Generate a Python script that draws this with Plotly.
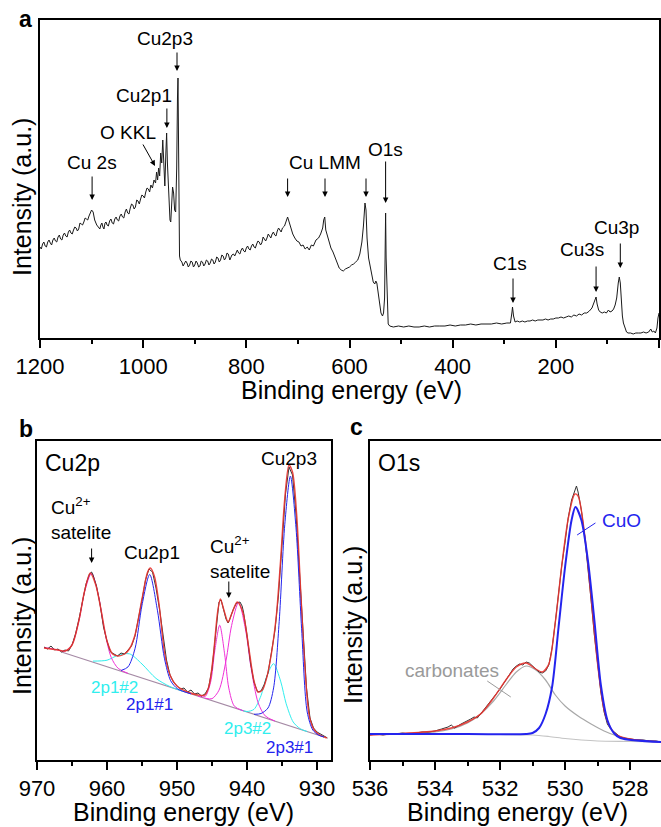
import plotly.graph_objects as go

W, H = 661, 827
FONT = "Liberation Sans, Arial, sans-serif"

# ---------------- Panel a: survey spectrum ----------------
survey_E = [1200, 1195, 1190, 1185, 1180, 1175, 1170, 1165, 1160, 1155, 1150, 1145, 1140, 1135, 1130,
            1125, 1120, 1115, 1110, 1105, 1100, 1097, 1094, 1090, 1086, 1082, 1078, 1074, 1070, 1065,
            1060, 1055, 1050, 1045, 1040, 1035, 1030, 1025, 1020, 1015, 1010, 1005, 1000, 995, 990,
            985, 982, 979, 976, 974, 972, 970, 968, 966, 964, 962, 960, 958, 956, 954.5, 953, 950,
            948, 946.5, 945, 943, 941, 939, 937, 935, 933.5, 932.5, 931.5, 930.5, 929.5, 928, 925,
            920, 915, 910, 905, 900, 895, 890, 885, 880, 875, 870, 865, 860, 855, 850, 845, 840, 835,
            832, 828, 825, 820, 815, 810, 805, 800, 795, 790, 785, 780, 775, 770, 765, 760, 755, 750,
            745, 740, 735, 730, 726, 722, 720, 717, 714, 710, 706, 702, 698, 694, 690, 686, 682, 678,
            674, 670, 665, 660, 656, 652, 650, 648, 646, 643, 640, 636, 632, 628, 624, 620, 616, 612,
            608, 604, 600, 596, 592, 588, 584, 580, 576, 573, 570, 568, 566, 563, 560, 557, 554, 551,
            549, 547, 545, 542, 539, 536, 534, 532, 531, 530, 529, 527, 525, 522, 515, 505, 495, 485,
            475, 465, 455, 445, 435, 425, 415, 405, 395, 385, 375, 365, 355, 345, 335, 325, 315, 305,
            295, 288, 285, 284, 282, 279, 275, 270, 265, 260, 255, 250, 245, 240, 235, 230, 225, 220,
            215, 210, 205, 200, 195, 190, 185, 180, 175, 170, 165, 160, 155, 150, 145, 140, 135, 130,
            127, 124, 122, 120, 117, 114, 110, 106, 102, 98, 95, 91, 88, 85, 82, 79, 77, 75, 73, 71,
            69, 66, 63, 60, 55, 50, 45, 40, 35, 30, 25, 20, 16, 13, 10, 7, 4, 2, 0]
survey_I = [91, 94, 92, 96, 95, 98, 97, 101, 99, 103, 102, 106, 105, 108, 110,
            109, 114, 116, 119, 122, 128, 126, 118, 113, 110, 113, 111, 115, 113, 117,
            115, 119, 118, 122, 121, 126, 125, 130, 133, 131, 137, 139, 142, 146, 149,
            153, 150, 158, 155, 166, 158, 170, 162, 185, 175, 198, 170, 152, 185, 205, 175, 128,
            118, 116, 132, 151, 145, 128, 126, 170, 240, 260, 200, 110, 82, 78, 76,
            74, 75, 73, 76, 73, 75, 72, 76, 74, 77, 75, 78, 76, 80, 78, 82, 80, 84,
            78, 83, 84, 86, 85, 88, 87, 90, 89, 92, 91, 94, 96, 95, 99, 100, 102, 104,
            103, 107, 108, 110, 112, 118, 121, 116, 110, 104, 100, 97, 96, 92, 93, 89, 91, 88,
            93, 92, 98, 100, 104, 110, 118, 121, 108, 102, 96, 90, 86, 80, 75, 70, 68, 67,
            69, 70, 71, 73, 74, 76, 78, 84, 96, 112, 135, 128, 100, 80, 72, 62, 56, 54,
            57, 55, 46, 35, 25, 22, 25, 40, 95, 125, 80, 30, 14, 12, 11, 12, 11, 12,
            11, 11, 12, 11, 12, 12, 12, 13, 12, 13, 13, 14, 13, 14, 14, 14, 15, 14,
            15, 15, 26, 31, 22, 16, 17, 16, 17, 16, 17, 17, 18, 17, 18, 18, 18, 19,
            18, 19, 19, 20, 20, 21, 20, 21, 22, 21, 23, 22, 24, 23, 25, 25, 27, 30,
            34, 40, 41, 34, 28, 26, 25, 26, 25, 28, 26, 27, 29, 33, 40, 55, 61, 55, 35, 22,
            15, 9, 6, 5, 5, 4, 5, 5, 5, 6, 5, 6, 9, 6, 7, 5, 10, 20, 25]
# extra readings of the noisy background between the points above
survey_noise_E = [1197.5, 1192.5, 1187.5, 1182.5, 1177.5, 1172.5, 1167.5, 1162.5, 1157.5, 1152.5,
                  1147.5, 1142.5, 1137.5, 1132.5, 1127.5, 1122.5, 1117.5, 1112.5, 1107.5, 1102.5,
                  1084, 1080, 1076, 1072, 1067.5, 1062.5, 1057.5, 1052.5, 1047.5, 1042.5, 1037.5,
                  1032.5, 1027.5, 1022.5, 1017.5, 1012.5, 1007.5, 1002.5, 997.5, 992.5, 987.5,
                  922.5, 917.5, 912.5, 907.5, 902.5, 897.5, 892.5, 887.5, 882.5, 877.5, 872.5, 867.5,
                  862.5, 857.5, 852.5, 847.5, 842.5, 837.5, 822.5, 817.5, 812.5, 807.5, 802.5, 797.5,
                  792.5, 787.5, 782.5, 777.5, 772.5, 767.5, 762.5, 757.5, 752.5, 747.5, 742.5, 737.5,
                  732.5]
survey_noise_I = [89, 96, 91, 98, 93, 100, 96, 103, 98, 105,
                  101, 108, 104, 111, 107, 115, 113, 120, 118, 126,
                  109, 115, 109, 116, 112, 119, 114, 121, 117, 124, 120,
                  129, 124, 134, 129, 138, 134, 143, 140, 150, 146,
                  72, 77, 71, 77, 71, 77, 71, 77, 72, 78, 73, 79,
                  74, 81, 76, 83, 78, 85, 82, 88, 84, 90, 86, 92,
                  88, 94, 90, 97, 93, 101, 97, 104, 100, 106, 102, 110,
                  106]

survey_labels = ["Cu 2s", "O KKL", "Cu2p1", "Cu2p3", "Cu LMM", "O1s", "C1s", "Cu3s", "Cu3p"]
survey_label_E = [1099, 1029, 998, 958, 647, 531, 289, 149, 83]
survey_label_I = [175, 205, 242, 299, 175, 188, 75, 88, 110]
# arrows: (head E, head I, tail E, tail I)
survey_arrows = [(1099, 138, 1099, 163), (977, 172, 1002, 195), (954, 210, 954, 231),
                 (934.4, 267, 934.4, 287), (720, 141, 720, 161), (647.5, 141, 647.5, 161),
                 (568, 141, 568, 161), (530, 135, 530, 178), (283, 35, 283, 61),
                 (122, 46, 122, 73), (75, 70, 75, 96)]

# ---------------- Panel b: Cu2p ----------------
cu_E = [969.0, 968.5, 968.0, 967.5, 967.0, 966.5, 966.0, 965.5, 965.0, 964.5, 964.0, 963.5, 963.0,
        962.5, 962.2, 962.0, 961.5, 961.0, 960.5, 960.0, 959.5, 959.0, 958.5, 958.0, 957.5, 957.0,
        956.5, 956.0, 955.5, 955.0, 954.5, 954.0, 953.5, 953.0, 952.5, 952.0, 951.5, 951.0, 950.5,
        950.0, 949.5, 949.0, 948.5, 948.0, 947.5, 947.0, 946.5, 946.0, 945.5, 945.0, 944.5, 944.0,
        943.7, 943.5, 943.0, 942.7, 942.5, 942.0, 941.5, 941.0, 940.7, 940.5, 940.0, 939.5, 939.0,
        938.5, 938.0, 937.5, 937.0, 936.5, 936.0, 935.5, 935.0, 934.5, 934.0, 933.5, 933.0, 932.5,
        932.0, 931.5, 931.0, 930.5, 930.0, 929.5, 929.0, 928.5]
cu_I = [113, 111, 114, 110, 111, 108, 110, 109, 115, 126, 141, 160, 176,
        186, 188, 185, 174, 156, 133, 119, 108, 106, 104, 107, 106, 110,
        114, 124, 141, 160, 180, 191, 188, 172, 151, 124, 100, 85, 78,
        74, 71, 72, 68, 70, 66, 67, 64, 66, 72, 91, 126, 158,
        160, 154, 141, 137, 140, 150, 157, 158, 154, 148, 125, 97, 78,
        68, 69, 76, 87, 108, 130, 165, 215, 266, 293, 285, 246, 190,
        122, 72, 42, 32, 28, 26, 24, 22]

cu_fit_E = [969, 967, 966, 965, 964, 963.2, 962.4, 961.6, 960.8, 960, 959.2, 958.4, 957.5, 956.8,
            956, 955, 954.2, 953.8, 953.2, 952.5, 951.8, 951, 950, 948.5, 947, 946, 945.4, 944.8,
            944.2, 943.8, 943.3, 942.7, 942.2, 941.4, 940.6, 939.8, 939, 938.4, 937.8, 937.2, 936.5,
            935.8, 935.2, 934.6, 934.0, 933.5, 932.9, 932.3, 931.7, 931.1, 930.4, 929.6, 928.6]
cu_fit_I = [112, 110, 109, 115, 140, 169, 187, 175, 148, 119, 106, 104, 106, 111,
            125, 161, 188, 192, 183, 152, 108, 85, 74, 68, 65, 65, 75, 105,
            148, 161, 150, 138, 146, 158, 148, 115, 79, 68, 70, 82, 107,
            145, 200, 262, 295, 288, 245, 165, 90, 44, 30, 25, 22]

bg_E = [966.5, 929.0]
bg_I = [108, 23]

p1_1_E = [958, 957, 956, 955, 953.9, 952.8, 951.8, 950.9, 949.9, 948]
p1_1_I = [89.5, 93.1, 111.3, 154.8, 185.5, 149.8, 101.8, 79.2, 71.1, 66.1]
p1_2_E = [962, 960, 958.5, 956.8, 955, 953, 951, 949]
p1_2_I = [98.9, 99.8, 104.5, 106.2, 96.0, 81.6, 73.4, 68.4]
p3_1_E = [939, 938, 937, 936.2, 935.4, 934.6, 933.8, 933.0, 932.2, 931.4, 930.6, 929.8, 929]
p3_1_I = [45.7, 46.5, 52, 72.1, 138.5, 235.7, 283.9, 232.1, 131.2, 48, 30, 25, 23]
p3_2_E = [941, 940, 939, 938, 937.2, 936.2, 935.2, 934.4, 933.4, 932.4, 931.4]
p3_2_I = [50.3, 48.5, 50.7, 64.3, 83.4, 96.3, 78.9, 56.2, 38.0, 31.3, 28.4]
sat1_E = [969, 968, 967, 966, 965, 964, 963.2, 962.2, 961.2, 960.4, 959.4, 958.4, 957]
sat1_I = [112.5, 111.5, 110, 108.8, 115.3, 139.4, 168.3, 187.0, 163.8, 131.2, 102.6, 91.6, 86.6]
sat2_E = [947, 946, 945.2, 944.6, 943.9, 943.2, 942.6, 941.8, 940.5]
sat2_I = [63.9, 63.3, 77.8, 109.4, 134.8, 106.2, 71.9, 53.8, 49.1]
sat3_E = [946, 945, 944, 943, 942.2, 941.2, 940.2, 939.4, 938.4, 937.4, 936]
sat3_I = [61.8, 61.3, 69.8, 99.3, 134.5, 157.7, 130.0, 91.1, 57.1, 44.1, 38.9]

# ---------------- Panel c: O1s ----------------
o_E = [536.0, 535.8, 535.6, 535.4, 535.2, 535.0, 534.8, 534.6, 534.4, 534.2, 534.0, 533.8, 533.6,
       533.5, 533.4, 533.2, 533.0, 532.9, 532.8, 532.7, 532.6, 532.5, 532.4, 532.3, 532.2, 532.1,
       532.0, 531.9, 531.8, 531.7, 531.6, 531.5, 531.4, 531.3, 531.2, 531.1, 531.0, 530.9, 530.8,
       530.7, 530.6, 530.5, 530.4, 530.3, 530.2, 530.1, 530.0, 529.9, 529.8, 529.7, 529.65, 529.6,
       529.5, 529.4, 529.3, 529.2, 529.1, 529.0, 528.9, 528.8, 528.7, 528.6, 528.5, 528.4, 528.3,
       528.2, 528.0, 527.8, 527.6, 527.4, 527.2, 527.05]
o_I = [25, 26, 25, 26, 26, 27, 26, 27, 28, 28, 29, 31, 33,
       35, 32, 36, 39, 41, 43, 42, 46, 50, 54, 58, 62, 66,
       71, 76, 81, 86, 91, 94, 96, 95, 98, 97, 94, 91, 88,
       87, 89, 95, 112, 138, 168, 195, 218, 243, 260, 270, 274, 268,
       250, 225, 195, 160, 125, 95, 68, 48, 36, 31, 28, 25, 23,
       22, 21, 20, 20, 19, 19, 18]
o_fit_E = [536, 535, 534, 533.5, 533, 532.6, 532.2, 531.8, 531.5, 531.2, 530.9, 530.7, 530.5, 530.3,
           530.1, 529.9, 529.7, 529.6, 529.4, 529.2, 529.0, 528.8, 528.6, 528.4, 528.0, 527.05]
o_fit_I = [25, 26.5, 29, 32, 38, 46, 62, 81, 93, 97, 91, 88, 96, 138,
           195, 242, 266, 264, 226, 162, 96, 50, 32, 25, 21, 18]
cuo_E = [536, 533, 531.2, 531.0, 530.8, 530.6, 530.4, 530.2, 530.0, 529.8, 529.68, 529.5, 529.3,
         529.1, 528.9, 528.7, 528.5, 528.3, 527.05]
cuo_I = [26, 26, 26, 27, 32, 46, 73, 133, 193, 240, 253, 240, 200, 140, 75, 40, 27, 22, 18]
carb_E = [536, 535, 534, 533.5, 533, 532.6, 532.2, 531.8, 531.5, 531.2, 530.9, 530.6, 530.3, 530.0,
          529.6, 529.2, 528.8, 528.4, 528.0, 527.05]
carb_I = [26, 26.5, 28, 31, 37, 46, 59, 76, 88, 94, 90, 80, 65, 54, 44, 36, 29, 24, 21, 18]
obg_E = [536, 532, 531, 530.5, 530, 529.5, 529, 528, 527.05]
obg_I = [25.5, 25.5, 25, 23.5, 21.5, 20, 19, 18.5, 18]

# ---------------- figure ----------------
def dx(px):
    return px / W

def dy(py):
    return 1 - py / H

fig = go.Figure()

survey_pairs = sorted(zip(survey_E + survey_noise_E, survey_I + survey_noise_I), reverse=True)
fig.add_trace(go.Scatter(x=[p[0] for p in survey_pairs], y=[p[1] for p in survey_pairs], mode="lines",
                         line=dict(color="#1a1a1a", width=1), xaxis="x", yaxis="y", showlegend=False))

RED = "rgba(232,50,45,0.9)"
BLUE = "#2424ee"
CYAN = "#30eeee"
MAG = "#f030d8"

def add_b(xs, ys, color, width=1.0):
    fig.add_trace(go.Scatter(x=xs, y=ys, mode="lines", line=dict(color=color, width=width, shape="spline", smoothing=0.8),
                             xaxis="x2", yaxis="y2", showlegend=False))

fig.add_trace(go.Scatter(x=bg_E, y=bg_I, mode="lines", line=dict(color="#a58aa5", width=1.2),
                         xaxis="x2", yaxis="y2", showlegend=False))
add_b(p1_2_E, p1_2_I, CYAN)
add_b(p3_2_E, p3_2_I, CYAN)
add_b(sat1_E, sat1_I, MAG)
add_b(sat2_E, sat2_I, MAG)
add_b(sat3_E, sat3_I, MAG)
fig.add_trace(go.Scatter(x=cu_E, y=cu_I, mode="lines", line=dict(color="#333333", width=1),
                         xaxis="x2", yaxis="y2", showlegend=False))
add_b(cu_fit_E, cu_fit_I, RED, 1.4)
add_b(p1_1_E, p1_1_I, BLUE)
add_b(p3_1_E, p3_1_I, BLUE)

def add_c(xs, ys, color, width=1.0):
    fig.add_trace(go.Scatter(x=xs, y=ys, mode="lines", line=dict(color=color, width=width, shape="spline", smoothing=0.8),
                             xaxis="x3", yaxis="y3", showlegend=False))

add_c(obg_E, obg_I, "#c4c4c4", 1.2)
add_c(carb_E, carb_I, "#a8a8a8", 1.2)
fig.add_trace(go.Scatter(x=o_E, y=o_I, mode="lines", line=dict(color="#333333", width=1),
                         xaxis="x3", yaxis="y3", showlegend=False))
add_c(o_fit_E, o_fit_I, RED, 1.4)
add_c(cuo_E, cuo_I, BLUE, 2.0)

def xax(domain, rng, dtick, mdtick, anchor):
    return dict(domain=domain, range=rng, autorange=False, automargin=False, anchor=anchor,
                dtick=dtick, tick0=0,
                ticks="outside", ticklen=8, tickwidth=1.5, tickcolor="black",
                minor=dict(dtick=mdtick, ticks="outside", ticklen=4, tickwidth=1.5, tickcolor="black"),
                showline=True, linecolor="black", linewidth=1.5, mirror=True,
                showgrid=False, zeroline=False,
                tickfont=dict(family=FONT, size=22, color="black"))

def topax(over, rng, dtick, mdtick, anchor):
    return dict(overlaying=over, side="top", anchor=anchor, range=rng, autorange=False, automargin=False,
                dtick=dtick, tick0=0,
                ticks="inside", ticklen=8, tickwidth=1.5, tickcolor="black",
                minor=dict(dtick=mdtick, ticks="inside", ticklen=4, tickwidth=1.5, tickcolor="black"),
                showticklabels=False, showline=False, showgrid=False, zeroline=False)

def yax(domain, rng, anchor):
    return dict(domain=domain, range=rng, autorange=False, automargin=False, anchor=anchor,
                showticklabels=False, ticks="",
                showline=True, linecolor="black", linewidth=1.5, mirror=True,
                showgrid=False, zeroline=False)

dom_a_x = [dx(40), dx(659)]
dom_a_y = [dy(338), dy(20)]
dom_b_x = [dx(37), dx(331)]
dom_c_x = [dx(370), 1.0]
dom_bc_y = [dy(760), dy(441)]

rng_a = [1200, 0]
rng_b = [970, 928]
rng_c = [536, 527.05]

fig.update_layout(
    width=W, height=H, autosize=False, margin=dict(l=0, r=0, t=0, b=0, pad=0, autoexpand=False),
    paper_bgcolor="white", plot_bgcolor="white", showlegend=False,
    xaxis=xax(dom_a_x, rng_a, 200, 100, "y"),
    yaxis=yax(dom_a_y, [0, 318], "x"),
    xaxis2=xax(dom_b_x, rng_b, 10, 5, "y2"),
    yaxis2=yax(dom_bc_y, [0, 319], "x2"),
    xaxis3=xax(dom_c_x, rng_c, 2, 1, "y3"),
    yaxis3=yax(dom_bc_y, [0, 319], "x3"),
    xaxis4=topax("x", rng_a, 200, 100, "y"),
    xaxis5=topax("x2", rng_b, 10, 5, "y2"),
    xaxis6=topax("x3", rng_c, 2, 1, "y3"),
)

ann = []

def text(x, y, s, size=19, color="black", xref="paper", yref="paper", xanchor="center", align="center", bold=False):
    if bold:
        s = "<b>" + s + "</b>"
    ann.append(dict(x=x, y=y, xref=xref, yref=yref, text=s, showarrow=False, xanchor=xanchor,
                    yanchor="middle", align=align, font=dict(family=FONT, size=size, color=color)))

def arrow(hx, hy, tx, ty, xref, yref, head=2, color="black", width=1.0):
    ann.append(dict(x=hx, y=hy, ax=tx, ay=ty, xref=xref, yref=yref, axref=xref, ayref=yref,
                    text="", showarrow=True, arrowhead=head, arrowsize=1.1, arrowwidth=width,
                    arrowcolor=color, standoff=0, startstandoff=0))

# panel labels
text(dx(25), dy(19), "a", size=23, bold=True)
text(dx(26), dy(429), "b", size=23, bold=True)
text(dx(357), dy(427), "c", size=23, bold=True)

# axis titles
text(dx(351), dy(390), "Binding energy (eV)", size=25)
text(dx(183), dy(812), "Binding energy (eV)", size=25)
text(dx(517), dy(812), "Binding energy (eV)", size=25)
for (xc, yc) in [(22, 197), (22, 616), (353, 625)]:
    ann.append(dict(x=dx(xc), y=dy(yc), xref="paper", yref="paper", text="Intensity (a.u.)",
                    showarrow=False, textangle=-90, xanchor="center", yanchor="middle",
                    font=dict(family=FONT, size=25, color="black")))

# panel a labels and arrows
for s, e, v in zip(survey_labels, survey_label_E, survey_label_I):
    text(e, v, s, xref="x", yref="y")
for (he, hv, te, tv) in survey_arrows:
    arrow(he, hv, te, tv, "x", "y")

# panel b
text(969.2, 297, "Cu2p", size=23, xref="x2", yref="y2", xanchor="left")
text(934.0, 302, "Cu2p3", xref="x2", yref="y2")
text(953.6, 208, "Cu2p1", xref="x2", yref="y2")
text(968.3, 242, "Cu<sup>2+</sup><br>satelite", xref="x2", yref="y2", xanchor="left", align="left")
text(945.6, 203, "Cu<sup>2+</sup><br>satelite", xref="x2", yref="y2", xanchor="left", align="left")
arrow(962.2, 197, 962.2, 213, "x2", "y2")
arrow(942.6, 162, 942.6, 180, "x2", "y2")
text(958.9, 73, "2p1#2", size=17, color=CYAN, xref="x2", yref="y2")
text(953.9, 56, "2p1#1", size=17, color=BLUE, xref="x2", yref="y2")
text(939.9, 32, "2p3#2", size=17, color=CYAN, xref="x2", yref="y2")
text(933.9, 13, "2p3#1", size=17, color=BLUE, xref="x2", yref="y2")

# panel c
text(535.82, 297, "O1s", size=23, xref="x3", yref="y3", xanchor="left")
text(528.28, 240, "CuO", color=BLUE, xref="x3", yref="y3")
arrow(529.63, 225, 529.02, 238, "x3", "y3", head=0, color=BLUE)
text(533.48, 90, "carbonates", color="#9a9a9a", xref="x3", yref="y3")
arrow(531.67, 63, 532.44, 80, "x3", "y3", head=0, color="#9a9a9a")

fig.update_layout(annotations=ann)

fig.write_html("out.html")
